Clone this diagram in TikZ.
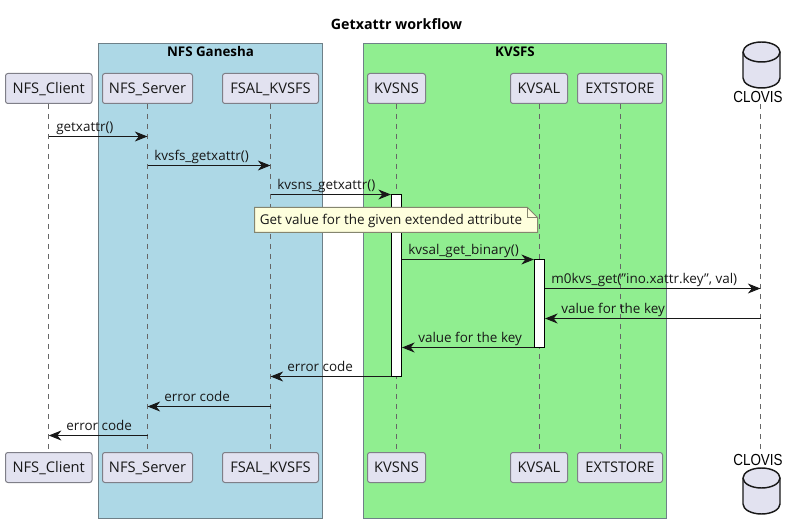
\documentclass[tikz,border=0pt]{standalone}
\usepackage{fontspec}
\setmainfont{Open Sans}
\newfontfamily\clovisfont[FakeStretch=0.84]{Liberation Sans}
\usetikzlibrary{arrows.meta,calc}

\definecolor{partfill}{HTML}{E2E2F0}
\definecolor{partdraw}{HTML}{7F7F88}
\definecolor{lifedraw}{HTML}{666666}
\definecolor{notefill}{HTML}{FEFFDD}
\definecolor{notedraw}{HTML}{85856F}
\definecolor{groupdraw}{HTML}{6E8088}
\definecolor{ink}{HTML}{181818}
\definecolor{ganeshablue}{HTML}{ADD8E6}
\definecolor{kvsfsgreen}{HTML}{90EE90}

\tikzset{
  participant/.style={draw=partdraw, fill=partfill, line width=0.75pt, rounded corners=1.8pt,
    minimum width=#1*0.75pt, minimum height=22.5pt, inner sep=0pt, text height=8.5pt, text depth=0.5pt,
    font=\fontsize{11}{13}\selectfont, text=ink},
  grouptitle/.style={font=\fontsize{10}{12}\selectfont\bfseries, text=black, inner sep=0pt},
  lifeline/.style={draw=lifedraw, line width=0.75pt, dash pattern=on 3.75pt off 3.75pt},
  activation/.style={draw=black, fill=white, line width=0.75pt, minimum width=7.5pt, inner sep=0pt},
  message/.style={draw=ink, line width=0.75pt, -{Stealth[length=9.5pt,width=7.5pt,inset=3pt]}},
  msglabel/.style={font=\fontsize{10.1}{12}\selectfont, text=ink, inner sep=0pt, anchor=base west},
  database/.style={draw=ink, fill=partfill, line width=1.1pt},
  clovislabel/.style={font=\clovisfont\fontsize{12}{14}\selectfont, inner sep=0pt},
}

\begin{document}
\begin{tikzpicture}[x=0.75pt, y=-0.75pt]
  \useasboundingbox (0,0) rectangle (795,530);

  % Title
  \node[font=\fontsize{10.7}{13}\selectfont\bfseries, inner sep=0pt] (title) at (396.5,24) {Getxattr workflow};

  % Groups
  \draw[groupdraw, fill=ganeshablue, line width=0.75pt] (98.5,43.5) rectangle (322.5,518.5);
  \draw[groupdraw, fill=kvsfsgreen, line width=0.75pt] (363.5,43.5) rectangle (666.5,518.5);
  \node[grouptitle] (ganesha) at (210.5,52) {NFS Ganesha};
  \node[grouptitle] (kvsfs) at (515,52) {KVSFS};

  % Participants
  \foreach \name/\x/\w/\txt in {client/48.75/86.5/NFS\_Client, server/147.5/90/NFS\_Server,
      fsal/270.5/96/FSAL\_KVSFS, kvsns/396.5/58/KVSNS, kvsal/539/57/KVSAL, extstore/620/85/EXTSTORE} {
    \node[participant=\w] (\name Top) at (\x,88.5) {\txt};
    \node[participant=\w] (\name Bot) at (\x,467.5) {\txt};
    \draw[lifeline] (\name Top) -- (\name Bot);
  }

  % Clovis
  \foreach \ytop in {42,468} {
    \draw[database] (743,\ytop+10) -- (743,\ytop+36) arc[start angle=180, end angle=0, x radius=18.5, y radius=10]
      -- (780,\ytop+10) arc[start angle=0, end angle=-180, x radius=18.5, y radius=10] -- cycle;
    \draw[database, fill=none] (743,\ytop+10) arc[start angle=180, end angle=0, x radius=18.5, y radius=10];
  }
  \node[clovislabel] (clovisA) at (758,97) {CLOVIS};
  \node[clovislabel] (clovisB) at (758,460) {CLOVIS};
  \coordinate (clovisTop) at (760.5,104);
  \coordinate (clovisBot) at (760.5,450);
  \draw[lifeline] (clovisTop) -- (clovisBot);

  % Activations
  \node[activation, minimum height=136.5pt] (actNS) at (396.5,285.5) {};
  \node[activation, minimum height=66pt] (actAL) at (539.5,303.5) {};

  % Messages
  \foreach \from/\to/\y/\lx/\txt in {clientTop/serverTop/136.5/56/getxattr(),
      serverTop/fsalTop/165.5/154/kvsfs\_getxattr(),
      fsalTop/actNS.west/194.5/277/kvsns\_getxattr(),
      actNS.east/actAL.west/259.5/408/kvsal\_get\_binary(),
      actAL.east/clovisTop/288.5/551/{m0kvs\_get("ino.xattr.key", val)},
      clovisTop/actAL.east/318.5/561/value for the key,
      actAL.west/actNS.east/347.5/418/value for the key,
      actNS.west/fsalTop/376.5/287/error code,
      fsalTop/serverTop/406.5/164/error code,
      serverTop/clientTop/435.5/66/error code} {
    \draw[message] (\from |- 0,\y) -- (\to |- 0,\y);
    \node[msglabel] at (\lx,\y-5) {\txt};
  }

  % Note
  \draw[notedraw, fill=notefill, line width=0.75pt] (254.5,207.5) -- (527.5,207.5) -- (537.5,217.5)
    -- (537.5,232.5) -- (254.5,232.5) -- cycle;
  \draw[notedraw, line width=0.75pt] (527.5,207.5) -- (527.5,217.5) -- (537.5,217.5);
  \node[msglabel] (note) at (259.5,225) {Get value for the given extended attribute};
\end{tikzpicture}
\end{document}
